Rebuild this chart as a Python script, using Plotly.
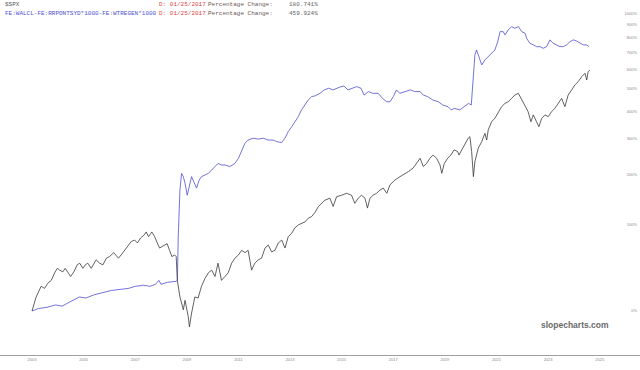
import plotly.graph_objects as go

# ---------------- data ----------------
spx_dates = [
    "2003-01-01", "2003-03-01", "2003-05-10", "2003-06-28", "2003-08-12", "2003-10-01", "2003-11-18", "2003-12-25",
    "2004-01-28", "2004-03-12", "2004-04-15", "2004-05-21", "2004-07-01", "2004-08-15", "2004-10-01", "2004-11-06",
    "2004-12-21", "2005-01-24", "2005-03-01", "2005-04-18", "2005-05-24", "2005-06-27", "2005-08-15", "2005-10-01",
    "2005-11-18", "2006-01-03", "2006-03-03", "2006-04-06", "2006-05-09", "2006-06-15", "2006-08-03", "2006-09-21",
    "2006-11-06", "2006-12-24", "2007-02-01", "2007-03-18", "2007-05-03", "2007-06-06", "2007-07-09", "2007-08-24",
    "2007-10-03", "2007-11-09", "2007-12-12", "2008-01-15", "2008-02-21", "2008-03-27", "2008-05-01", "2008-06-03",
    "2008-07-12", "2008-08-03", "2008-08-19", "2008-09-25", "2008-11-12", "2008-12-06", "2009-01-21", "2009-02-06",
    "2009-03-09", "2009-04-24", "2009-06-09", "2009-07-27", "2009-09-15", "2009-11-01", "2009-12-18", "2010-02-03",
    "2010-03-18", "2010-05-06", "2010-06-24", "2010-08-09", "2010-09-27", "2010-11-12", "2011-01-01", "2011-02-15",
    "2011-04-03", "2011-05-18", "2011-07-06", "2011-08-21", "2011-10-09", "2011-11-24", "2012-01-12", "2012-02-27",
    "2012-04-15", "2012-06-01", "2012-07-18", "2012-09-06", "2012-10-21", "2012-12-06", "2013-01-24", "2013-03-09",
    "2013-04-27", "2013-06-12", "2013-08-01", "2013-09-15", "2013-11-03", "2013-12-18", "2014-02-06", "2014-05-09",
    "2014-07-18", "2014-09-03", "2014-10-21", "2015-01-01", "2015-03-12", "2015-05-21", "2015-07-06", "2015-08-24",
    "2015-10-09", "2015-11-27", "2016-01-01", "2016-02-06", "2016-03-21", "2016-05-09", "2016-06-27", "2016-08-12",
    "2016-10-01", "2016-11-15", "2017-01-24", "2017-04-06", "2017-05-21", "2017-08-01", "2017-10-09", "2017-11-27",
    "2018-01-15", "2018-03-01", "2018-04-18", "2018-06-03", "2018-07-18", "2018-09-06", "2018-10-24", "2018-11-18",
    "2018-12-24", "2019-02-09", "2019-03-27", "2019-05-12", "2019-07-01", "2019-07-20", "2019-08-27", "2019-10-12",
    "2019-11-27", "2019-12-21", "2020-01-15", "2020-02-09", "2020-03-01", "2020-04-18", "2020-06-06", "2020-07-21",
    "2020-08-15", "2020-09-06", "2020-10-24", "2020-12-09", "2021-01-27", "2021-03-15", "2021-05-01", "2021-06-15",
    "2021-08-03", "2021-09-18", "2021-11-06", "2021-12-24", "2022-02-09", "2022-03-24", "2022-05-03", "2022-06-06",
    "2022-07-21", "2022-08-24", "2022-10-03", "2022-11-18", "2023-01-03", "2023-02-21", "2023-04-06", "2023-05-24",
    "2023-07-12", "2023-08-27", "2023-10-12", "2023-12-01", "2024-01-15", "2024-03-03", "2024-04-21", "2024-06-06",
    "2024-07-01", "2024-07-21", "2024-08-15",
]
spx_pct = [
    0, 12, 22, 20, 25, 28, 36, 41,
    39, 37, 41, 36, 32, 37, 45, 47,
    41, 45, 47, 41, 47, 51, 47, 45,
    53, 55, 60, 57, 53, 57, 63, 70,
    75, 77, 73, 80, 84, 89, 82, 89,
    82, 73, 66, 68, 70, 72, 63, 55,
    57, 55, 28, 12, 1, 9, -4.5, -12,
    -1.6, 12, 11, 22, 30, 36, 39, 32,
    47, 28, 32, 36, 47, 53, 57, 63,
    60, 63, 39, 47, 51, 53, 66, 70,
    61, 63, 73, 77, 66, 82, 87, 95,
    100, 103, 105, 111, 114, 121, 132, 144,
    148, 132, 151, 154, 158, 154, 138, 148,
    154, 148, 129, 148, 154, 158, 165, 169,
    158, 176, 187, 195, 199, 207, 216, 228,
    242, 220, 228, 242, 251, 242, 224, 203,
    228, 242, 251, 266, 261, 251, 266, 286,
    302, 307, 261, 195, 233, 271, 291, 318,
    296, 330, 359, 372, 398, 418, 432, 439,
    454, 469, 477, 447, 425, 398, 359, 385,
    359, 341, 372, 385, 378, 398, 411, 432,
    454, 418, 469, 493, 517, 534, 560, 578,
    542, 587, 596,
]

fed_dates = [
    "2003-01-01", "2003-04-01", "2003-08-01", "2003-12-01", "2004-03-01", "2004-06-01", "2004-09-01", "2004-11-01",
    "2005-02-01", "2005-06-01", "2005-10-01", "2006-02-01", "2006-06-01", "2006-10-01", "2007-01-01", "2007-05-01",
    "2007-08-01", "2007-10-15", "2007-12-01", "2008-01-01", "2008-04-01", "2008-08-01", "2008-08-20", "2008-09-01",
    "2008-09-25", "2008-10-18", "2008-11-12", "2008-12-06", "2009-01-06", "2009-02-15", "2009-03-09", "2009-04-09",
    "2009-05-18", "2009-06-24", "2009-07-27", "2009-09-15", "2009-11-01", "2009-12-18", "2010-02-03", "2010-03-18",
    "2010-05-06", "2010-06-24", "2010-09-01", "2010-11-12", "2011-01-01", "2011-02-15", "2011-04-03", "2011-05-18",
    "2011-07-27", "2011-10-09", "2011-12-18", "2012-02-27", "2012-05-06", "2012-06-24", "2012-09-03", "2012-10-21",
    "2012-12-06", "2013-01-24", "2013-03-09", "2013-04-27", "2013-06-12", "2013-08-01", "2013-09-15", "2013-11-03",
    "2013-12-18", "2014-03-01", "2014-05-01", "2014-07-01", "2014-09-01", "2014-12-01", "2015-02-01", "2015-04-01",
    "2015-06-01", "2015-08-01", "2015-10-01", "2015-11-15", "2016-01-15", "2016-03-15", "2016-06-01", "2016-08-01",
    "2016-10-01", "2016-11-15", "2017-01-01", "2017-02-15", "2017-04-01", "2017-06-15", "2017-09-01", "2017-11-01",
    "2018-01-15", "2018-03-01", "2018-05-01", "2018-07-15", "2018-10-01", "2018-12-01", "2019-02-15", "2019-04-01",
    "2019-05-15", "2019-08-01", "2019-10-01", "2019-12-01", "2020-01-10", "2020-02-10", "2020-03-01", "2020-03-25",
    "2020-04-27", "2020-06-06", "2020-07-21", "2020-09-06", "2020-10-24", "2020-12-09", "2021-01-18", "2021-02-21",
    "2021-04-06", "2021-05-01", "2021-06-15", "2021-08-03", "2021-09-18", "2021-11-06", "2021-12-24", "2022-02-09",
    "2022-03-03", "2022-04-18", "2022-06-06", "2022-07-21", "2022-09-09", "2022-10-24", "2022-12-12", "2023-01-27",
    "2023-03-15", "2023-05-01", "2023-06-18", "2023-08-03", "2023-09-21", "2023-11-06", "2023-12-24", "2024-02-09",
    "2024-03-27", "2024-05-12", "2024-07-01", "2024-08-03",
]
fed_pct = [
    0, 2, 3, 5, 4, 7, 10, 12,
    11, 14, 16, 18, 19, 20, 22, 23,
    22, 24, 28, 24, 26, 27, 28, 82,
    165, 203, 195, 180, 154, 180, 195, 183,
    169, 187, 195, 199, 203, 211, 220, 228,
    224, 224, 220, 228, 242, 261, 286, 296,
    302, 299, 302, 296, 296, 291, 288, 302,
    324, 341, 359, 378, 405, 425, 447, 462,
    465, 477, 493, 501, 493, 506, 512, 493,
    501, 509, 501, 469, 485, 477, 477, 454,
    439, 439, 462, 493, 477, 485, 493, 485,
    485, 469, 462, 447, 439, 425, 418, 405,
    411, 405, 418, 432, 425, 587, 686, 718,
    675, 625, 655, 675, 696, 718, 774, 848,
    848, 823, 861, 887, 874, 887, 848, 836,
    799, 763, 752, 740, 740, 729, 740, 787,
    763, 752, 740, 740, 752, 774, 787, 779,
    763, 752, 752, 740,
]

x_tick_labels = ["2003", "2005", "2007", "2009", "2011", "2013", "2015",
                 "2017", "2019", "2021", "2023", "2025"]
y_tick_pct = [0, 100, 200, 300, 400, 500, 600, 700, 800, 900, 1000]

header_spx = "$SPX"
header_fed = "FE:WALCL-FE:RRPONTSYD*1000-FE:WTREGEN*1000"
header_date = "D: 01/25/2017"
header_pc = "Percentage Change:"
spx_change = "180.741%"
fed_change = "459.924%"

# ---------------- figure ----------------
W, H = 640, 370
plot_h = 355  # plot area height (margin bottom 15)

fig = go.Figure()
fig.add_trace(go.Scatter(
    x=fed_dates, y=[1 + v / 100 for v in fed_pct], mode="lines",
    line=dict(color="#4f4fd2", width=0.8), hoverinfo="skip", showlegend=False))
fig.add_trace(go.Scatter(
    x=spx_dates, y=[1 + v / 100 for v in spx_pct], mode="lines",
    line=dict(color="#3a3a3a", width=0.8), hoverinfo="skip", showlegend=False))

fig.update_layout(
    width=W, height=H,
    margin=dict(l=0, r=0, t=0, b=15),
    paper_bgcolor="white", plot_bgcolor="white",
    xaxis=dict(
        type="date",
        range=["2001-10-05", "2026-07-25"],
        tickvals=[f"{t}-01-01" for t in x_tick_labels],
        ticktext=x_tick_labels,
        showgrid=False, zeroline=False,
        showline=True, linecolor="#a0a0a0", linewidth=1,
        ticks="", tickfont=dict(size=4, color="#888", family="Liberation Sans"),
    ),
    yaxis=dict(
        type="log",
        range=[-0.1538, 1.0874],
        side="right",
        tickvals=[1 + v / 100 for v in y_tick_pct],
        ticktext=[f"{v}%" for v in y_tick_pct],
        ticklabelposition="inside",
        showgrid=False, zeroline=False, showline=False, ticks="",
        tickfont=dict(size=4, color="#888", family="Liberation Sans"),
    ),
)

mono = "Liberation Mono"

def py(p):
    return 1 - p / plot_h

def px(p):
    return p / W

anns = [
    (3, 5, header_spx, "#555"),
    (157, 5, header_date, "#e04545"),
    (206, 5, header_pc, "#6a5555"),
    (287, 5, spx_change, "#666"),
    (3, 14, header_fed, "#4f4fd2"),
    (157, 14, header_date, "#e04545"),
    (206, 14, header_pc, "#6a5555"),
    (287, 14, fed_change, "#666"),
]
for x0, y0, txt, col in anns:
    fig.add_annotation(x=px(x0), y=py(y0), xref="paper", yref="paper",
                       xanchor="left", yanchor="middle", showarrow=False,
                       text=txt, font=dict(family=mono, size=6, color=col))

fig.add_annotation(x=px(575), y=py(325), xref="paper", yref="paper",
                   xanchor="center", yanchor="middle", showarrow=False,
                   text="<b>slopecharts.com</b>",
                   font=dict(family="Liberation Sans", size=8.5, color="#6a6a6a"))

fig.write_html("out.html", config={"displayModeBar": False})
